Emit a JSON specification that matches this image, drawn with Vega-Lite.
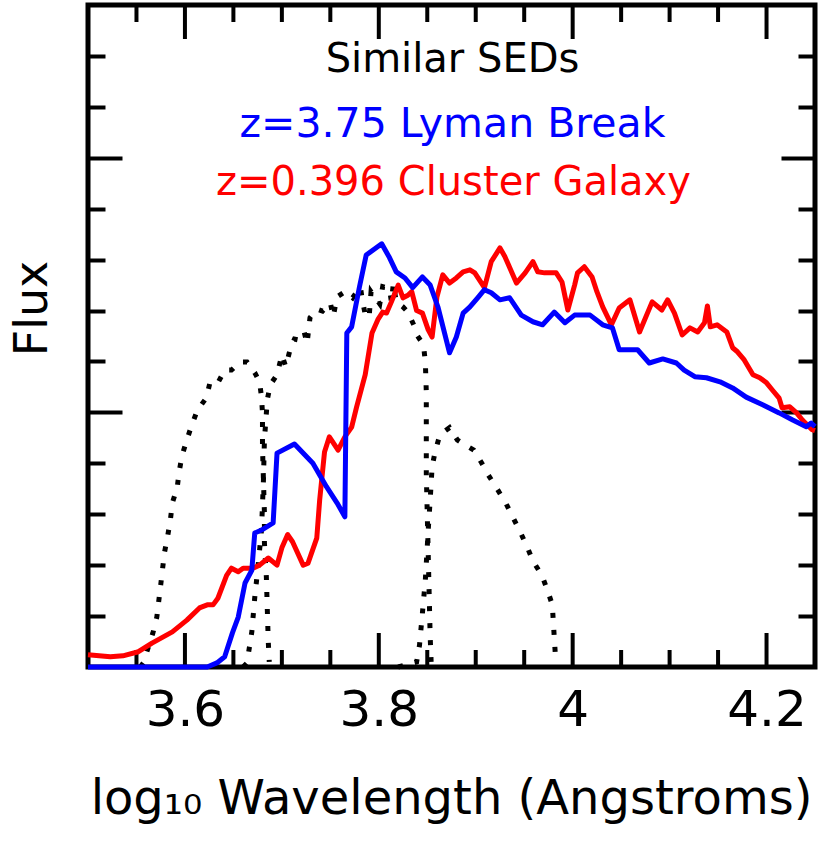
{
  "$schema": "https://vega.github.io/schema/vega-lite/v6.json",
  "width": 727,
  "height": 662,
  "autosize": "none",
  "padding": {"left": 88, "top": 5, "right": 15, "bottom": 174},
  "background": "white",
  "config": {
    "view": {"stroke": "black", "strokeWidth": 5},
    "font": "DejaVu Sans",
    "axis": {"labelFont": "DejaVu Sans", "titleFont": "DejaVu Sans", "grid": false, "domain": false, "tickColor": "black", "tickWidth": 4, "labelColor": "black", "titleColor": "black", "titleFontWeight": "normal"}
  },
  "datasets": {
    "majorX": [{"v":3.6},{"v":3.8},{"v":4.0},{"v":4.2}],
    "minorX": [{"v":3.55},{"v":3.65},{"v":3.7},{"v":3.75},{"v":3.85},{"v":3.9},{"v":3.95},{"v":4.05},{"v":4.1},{"v":4.15}],
    "red": [
      {"x":3.500,"y":0.24},{"x":3.523,"y":0.2},{"x":3.536,"y":0.22},{"x":3.552,"y":0.3},{"x":3.566,"y":0.47},{"x":3.587,"y":0.69},{"x":3.602,"y":0.92},{"x":3.615,"y":1.16},{"x":3.623,"y":1.22},{"x":3.629,"y":1.22},{"x":3.634,"y":1.35},{"x":3.643,"y":1.8},{"x":3.648,"y":1.94},{"x":3.655,"y":1.87},{"x":3.660,"y":1.94},{"x":3.670,"y":1.94},{"x":3.677,"y":2.0},{"x":3.686,"y":2.14},{"x":3.695,"y":2.0},{"x":3.700,"y":2.34},{"x":3.706,"y":2.6},{"x":3.711,"y":2.46},{"x":3.722,"y":2.0},{"x":3.727,"y":2.04},{"x":3.736,"y":2.53},{"x":3.739,"y":3.28},{"x":3.744,"y":4.22},{"x":3.749,"y":4.52},{"x":3.758,"y":4.26},{"x":3.765,"y":4.52},{"x":3.772,"y":4.71},{"x":3.777,"y":5.1},{"x":3.786,"y":5.74},{"x":3.793,"y":6.56},{"x":3.799,"y":6.82},{"x":3.804,"y":6.97},{"x":3.808,"y":6.95},{"x":3.813,"y":7.17},{"x":3.820,"y":7.5},{"x":3.825,"y":7.25},{"x":3.830,"y":7.3},{"x":3.834,"y":7.37},{"x":3.839,"y":7.0},{"x":3.845,"y":6.95},{"x":3.851,"y":6.62},{"x":3.855,"y":6.48},{"x":3.860,"y":7.27},{"x":3.866,"y":7.7},{"x":3.873,"y":7.54},{"x":3.880,"y":7.64},{"x":3.887,"y":7.76},{"x":3.894,"y":7.8},{"x":3.899,"y":7.74},{"x":3.909,"y":7.45},{"x":3.916,"y":7.96},{"x":3.925,"y":8.23},{"x":3.930,"y":8.06},{"x":3.942,"y":7.54},{"x":3.951,"y":7.74},{"x":3.959,"y":7.96},{"x":3.964,"y":7.76},{"x":3.971,"y":7.74},{"x":3.983,"y":7.74},{"x":3.989,"y":7.56},{"x":3.995,"y":7.01},{"x":4.002,"y":7.5},{"x":4.005,"y":7.74},{"x":4.012,"y":7.86},{"x":4.020,"y":7.66},{"x":4.025,"y":7.37},{"x":4.031,"y":7.07},{"x":4.040,"y":6.72},{"x":4.048,"y":7.05},{"x":4.059,"y":7.21},{"x":4.069,"y":6.58},{"x":4.082,"y":7.17},{"x":4.092,"y":7.01},{"x":4.098,"y":7.21},{"x":4.105,"y":6.95},{"x":4.113,"y":6.52},{"x":4.121,"y":6.66},{"x":4.129,"y":6.58},{"x":4.136,"y":6.76},{"x":4.139,"y":7.09},{"x":4.142,"y":6.68},{"x":4.149,"y":6.72},{"x":4.159,"y":6.58},{"x":4.165,"y":6.27},{"x":4.170,"y":6.19},{"x":4.177,"y":6.03},{"x":4.186,"y":5.74},{"x":4.193,"y":5.68},{"x":4.200,"y":5.58},{"x":4.206,"y":5.44},{"x":4.213,"y":5.28},{"x":4.216,"y":5.09},{"x":4.224,"y":5.11},{"x":4.231,"y":4.99},{"x":4.237,"y":4.85},{"x":4.247,"y":4.66},{"x":4.250,"y":4.64}
    ],
    "blue": [
      {"x":3.500,"y":0},{"x":3.623,"y":0},{"x":3.633,"y":0.08},{"x":3.641,"y":0.2},{"x":3.649,"y":0.67},{"x":3.655,"y":0.98},{"x":3.662,"y":1.65},{"x":3.669,"y":1.9},{"x":3.672,"y":2.63},{"x":3.679,"y":2.69},{"x":3.691,"y":2.83},{"x":3.695,"y":4.2},{"x":3.713,"y":4.38},{"x":3.732,"y":4.0},{"x":3.746,"y":3.54},{"x":3.757,"y":3.22},{"x":3.765,"y":2.95},{"x":3.767,"y":6.56},{"x":3.772,"y":6.68},{"x":3.780,"y":7.46},{"x":3.787,"y":8.09},{"x":3.803,"y":8.31},{"x":3.811,"y":8.04},{"x":3.818,"y":7.76},{"x":3.827,"y":7.64},{"x":3.835,"y":7.45},{"x":3.845,"y":7.66},{"x":3.853,"y":7.5},{"x":3.861,"y":7.07},{"x":3.873,"y":6.17},{"x":3.880,"y":6.48},{"x":3.887,"y":6.95},{"x":3.894,"y":7.07},{"x":3.902,"y":7.25},{"x":3.909,"y":7.41},{"x":3.916,"y":7.35},{"x":3.925,"y":7.21},{"x":3.935,"y":7.25},{"x":3.947,"y":6.91},{"x":3.959,"y":6.78},{"x":3.969,"y":6.72},{"x":3.981,"y":6.97},{"x":3.992,"y":6.76},{"x":4.002,"y":6.91},{"x":4.018,"y":6.91},{"x":4.031,"y":6.72},{"x":4.041,"y":6.66},{"x":4.048,"y":6.23},{"x":4.067,"y":6.23},{"x":4.079,"y":5.97},{"x":4.093,"y":6.05},{"x":4.107,"y":5.97},{"x":4.115,"y":5.83},{"x":4.126,"y":5.70},{"x":4.138,"y":5.68},{"x":4.152,"y":5.60},{"x":4.165,"y":5.48},{"x":4.179,"y":5.30},{"x":4.196,"y":5.15},{"x":4.213,"y":4.99},{"x":4.227,"y":4.85},{"x":4.241,"y":4.72},{"x":4.246,"y":4.79},{"x":4.250,"y":4.72}
    ],
    "filters": [
      {"f":"B","i":1,"x":3.554,"y":0},{"f":"B","i":2,"x":3.557,"y":0.08},{"f":"B","i":3,"x":3.567,"y":0.67},{"f":"B","i":4,"x":3.571,"y":0.98},{"f":"B","i":5,"x":3.575,"y":1.61},{"f":"B","i":6,"x":3.577,"y":1.94},{"f":"B","i":7,"x":3.579,"y":2.26},{"f":"B","i":8,"x":3.582,"y":2.55},{"f":"B","i":9,"x":3.585,"y":2.89},{"f":"B","i":10,"x":3.587,"y":3.22},{"f":"B","i":11,"x":3.592,"y":3.52},{"f":"B","i":12,"x":3.594,"y":3.83},{"f":"B","i":13,"x":3.597,"y":4.15},{"f":"B","i":14,"x":3.602,"y":4.46},{"f":"B","i":15,"x":3.607,"y":4.75},{"f":"B","i":16,"x":3.613,"y":5.05},{"f":"B","i":17,"x":3.622,"y":5.28},{"f":"B","i":18,"x":3.626,"y":5.6},{"f":"B","i":19,"x":3.634,"y":5.58},{"f":"B","i":20,"x":3.641,"y":5.83},{"f":"B","i":21,"x":3.648,"y":5.83},{"f":"B","i":22,"x":3.657,"y":5.99},{"f":"B","i":23,"x":3.664,"y":5.99},{"f":"B","i":24,"x":3.672,"y":5.78},{"f":"B","i":25,"x":3.677,"y":5.6},{"f":"B","i":26,"x":3.679,"y":5.3},{"f":"B","i":27,"x":3.680,"y":4.99},{"f":"B","i":28,"x":3.680,"y":4.32},{"f":"B","i":29,"x":3.681,"y":3.67},{"f":"B","i":30,"x":3.682,"y":3.03},{"f":"B","i":31,"x":3.682,"y":2.44},{"f":"B","i":32,"x":3.684,"y":1.77},{"f":"B","i":33,"x":3.685,"y":1.12},{"f":"B","i":34,"x":3.686,"y":0.49},{"f":"B","i":35,"x":3.687,"y":0.1},
      {"f":"R","i":40,"x":3.660,"y":0},{"f":"R","i":41,"x":3.664,"y":0.08},{"f":"R","i":42,"x":3.669,"y":0.69},{"f":"R","i":43,"x":3.672,"y":1.36},{"f":"R","i":44,"x":3.675,"y":1.9},{"f":"R","i":45,"x":3.679,"y":2.69},{"f":"R","i":46,"x":3.681,"y":3.67},{"f":"R","i":47,"x":3.682,"y":4.46},{"f":"R","i":48,"x":3.685,"y":5.25},{"f":"R","i":49,"x":3.688,"y":5.54},{"f":"R","i":50,"x":3.695,"y":5.74},{"f":"R","i":51,"x":3.700,"y":6.13},{"f":"R","i":52,"x":3.704,"y":5.9},{"f":"R","i":53,"x":3.709,"y":6.27},{"f":"R","i":54,"x":3.713,"y":6.44},{"f":"R","i":55,"x":3.718,"y":6.42},{"f":"R","i":56,"x":3.723,"y":6.58},{"f":"R","i":57,"x":3.726,"y":6.35},{"f":"R","i":58,"x":3.729,"y":6.86},{"f":"R","i":59,"x":3.736,"y":7.03},{"f":"R","i":60,"x":3.742,"y":6.99},{"f":"R","i":61,"x":3.750,"y":7.15},{"f":"R","i":62,"x":3.753,"y":6.88},{"f":"R","i":63,"x":3.757,"y":7.27},{"f":"R","i":64,"x":3.765,"y":7.37},{"f":"R","i":65,"x":3.773,"y":7.25},{"f":"R","i":66,"x":3.781,"y":7.46},{"f":"R","i":67,"x":3.783,"y":7.21},{"f":"R","i":68,"x":3.786,"y":6.92},{"f":"R","i":69,"x":3.790,"y":6.86},{"f":"R","i":70,"x":3.792,"y":7.37},{"f":"R","i":71,"x":3.801,"y":7.13},{"f":"R","i":72,"x":3.804,"y":7.47},{"f":"R","i":73,"x":3.811,"y":7.43},{"f":"R","i":74,"x":3.813,"y":7.17},{"f":"R","i":75,"x":3.815,"y":7.53},{"f":"R","i":76,"x":3.818,"y":7.17},{"f":"R","i":77,"x":3.825,"y":7.07},{"f":"R","i":78,"x":3.830,"y":6.97},{"f":"R","i":79,"x":3.836,"y":6.72},{"f":"R","i":80,"x":3.840,"y":6.5},{"f":"R","i":81,"x":3.846,"y":6.33},{"f":"R","i":82,"x":3.848,"y":6.0},{"f":"R","i":83,"x":3.849,"y":5.4},{"f":"R","i":84,"x":3.849,"y":4.6},{"f":"R","i":85,"x":3.849,"y":3.8},{"f":"R","i":86,"x":3.850,"y":3.0},{"f":"R","i":87,"x":3.851,"y":2.2},{"f":"R","i":88,"x":3.852,"y":1.4},{"f":"R","i":89,"x":3.853,"y":0.6},{"f":"R","i":90,"x":3.854,"y":0.1},
      {"f":"I","i":100,"x":3.820,"y":0},{"f":"I","i":101,"x":3.839,"y":0.1},{"f":"I","i":102,"x":3.842,"y":0.43},{"f":"I","i":103,"x":3.845,"y":1.06},{"f":"I","i":104,"x":3.848,"y":1.71},{"f":"I","i":105,"x":3.851,"y":2.69},{"f":"I","i":106,"x":3.853,"y":3.28},{"f":"I","i":107,"x":3.855,"y":3.93},{"f":"I","i":108,"x":3.858,"y":4.22},{"f":"I","i":109,"x":3.863,"y":4.56},{"f":"I","i":110,"x":3.873,"y":4.7},{"f":"I","i":111,"x":3.881,"y":4.46},{"f":"I","i":112,"x":3.889,"y":4.36},{"f":"I","i":113,"x":3.898,"y":4.26},{"f":"I","i":114,"x":3.906,"y":4.01},{"f":"I","i":115,"x":3.913,"y":3.77},{"f":"I","i":116,"x":3.922,"y":3.5},{"f":"I","i":117,"x":3.931,"y":3.22},{"f":"I","i":118,"x":3.938,"y":2.95},{"f":"I","i":119,"x":3.946,"y":2.65},{"f":"I","i":120,"x":3.953,"y":2.36},{"f":"I","i":121,"x":3.959,"y":2.08},{"f":"I","i":122,"x":3.968,"y":1.81},{"f":"I","i":123,"x":3.974,"y":1.51},{"f":"I","i":124,"x":3.979,"y":1.22},{"f":"I","i":125,"x":3.980,"y":0.9},{"f":"I","i":126,"x":3.981,"y":0.59},{"f":"I","i":127,"x":3.982,"y":0.28}
    ]
  },
  "layer": [
    {
      "data": {"name": "filters"},
      "mark": {"type": "line", "color": "black", "strokeWidth": 5, "strokeDash": [5, 12], "strokeCap": "butt"},
      "encoding": {
        "x": {"field": "x", "type": "quantitative", "scale": {"domain": [3.5, 4.25], "nice": false, "zero": false},
          "axis": {"orient": "bottom", "values": [3.6, 3.8, 4, 4.2], "ticks": false, "tickSize": 0,
            "labelExpr": "format(datum.value, '.2~f')",
            "labelFontSize": 50, "labelPadding": 18, "labelOverlap": false, "labelFlush": false,
            "title": "log₁₀ Wavelength (Angstroms)", "titleFontSize": 48, "titleX": 363, "titleY": 146, "titleAlign": "center", "titleBaseline": "alphabetic"}},
        "y": {"field": "y", "type": "quantitative", "scale": {"domain": [0, 13], "nice": false, "zero": false},
          "axis": {"orient": "left", "values": [1,2,3,4,5,6,7,8,9,10,11,12],
            "tickSize": {"condition": {"test": "datum.value % 5 === 0", "value": -34}, "value": -17},
            "labels": false, "title": "Flux", "titleFontSize": 46, "titleX": -42, "titleY": 303, "titleAlign": "center", "titleBaseline": "alphabetic", "titleAngle": 270}},
        "detail": {"field": "f"},
        "order": {"field": "i", "type": "quantitative"}
      }
    },
    {
      "data": {"name": "majorX"},
      "mark": {"type": "point", "shape": "stroke", "angle": 90, "size": 1156, "filled": false, "color": "black", "strokeWidth": 4, "opacity": 1, "yOffset": -17},
      "encoding": {
        "x": {"field": "v", "type": "quantitative", "axis": null},
        "y": {"datum": 0, "type": "quantitative", "axis": null}
      }
    },
    {
      "data": {"name": "majorX"},
      "mark": {"type": "point", "shape": "stroke", "angle": 90, "size": 1156, "filled": false, "color": "black", "strokeWidth": 4, "opacity": 1, "yOffset": 17},
      "encoding": {
        "x": {"field": "v", "type": "quantitative", "axis": null},
        "y": {"datum": 13, "type": "quantitative", "axis": null}
      }
    },
    {
      "data": {"name": "minorX"},
      "mark": {"type": "point", "shape": "stroke", "angle": 90, "size": 289, "filled": false, "color": "black", "strokeWidth": 4, "opacity": 1, "yOffset": -8.5},
      "encoding": {
        "x": {"field": "v", "type": "quantitative", "axis": null},
        "y": {"datum": 0, "type": "quantitative", "axis": null}
      }
    },
    {
      "data": {"name": "minorX"},
      "mark": {"type": "point", "shape": "stroke", "angle": 90, "size": 289, "filled": false, "color": "black", "strokeWidth": 4, "opacity": 1, "yOffset": 8.5},
      "encoding": {
        "x": {"field": "v", "type": "quantitative", "axis": null},
        "y": {"datum": 13, "type": "quantitative", "axis": null}
      }
    },
    {
      "data": {"name": "red"},
      "mark": {"type": "line", "color": "#ff0000", "strokeWidth": 5, "strokeJoin": "round"},
      "encoding": {
        "x": {"field": "x", "type": "quantitative", "axis": null},
        "y": {"field": "y", "type": "quantitative",
          "axis": {"orient": "right", "values": [1,2,3,4,5,6,7,8,9,10,11,12],
            "tickSize": {"condition": {"test": "datum.value % 5 === 0", "value": -34}, "value": -17},
            "labels": false, "title": null}}
      }
    },
    {
      "data": {"name": "blue"},
      "mark": {"type": "line", "color": "#0000ff", "strokeWidth": 5, "strokeJoin": "round"},
      "encoding": {
        "x": {"field": "x", "type": "quantitative", "axis": null},
        "y": {"field": "y", "type": "quantitative", "axis": null}
      }
    },
    {
      "data": {"values": [{}]},
      "mark": {"type": "text", "text": "Similar SEDs", "fontSize": 40, "color": "black", "align": "center", "baseline": "alphabetic"},
      "encoding": {
        "x": {"datum": 3.876, "type": "quantitative", "axis": null},
        "y": {"datum": 11.685, "type": "quantitative", "axis": null}
      }
    },
    {
      "data": {"values": [{}]},
      "mark": {"type": "text", "text": "z=3.75 Lyman Break", "fontSize": 41, "color": "#0000ff", "align": "center", "baseline": "alphabetic"},
      "encoding": {
        "x": {"datum": 3.876, "type": "quantitative", "axis": null},
        "y": {"datum": 10.41, "type": "quantitative", "axis": null}
      }
    },
    {
      "data": {"values": [{}]},
      "mark": {"type": "text", "text": "z=0.396 Cluster Galaxy", "fontSize": 40, "color": "#ff0000", "align": "center", "baseline": "alphabetic"},
      "encoding": {
        "x": {"datum": 3.877, "type": "quantitative", "axis": null},
        "y": {"datum": 9.27, "type": "quantitative", "axis": null}
      }
    }
  ],
  "resolve": {"axis": {"x": "independent", "y": "independent"}}
}
